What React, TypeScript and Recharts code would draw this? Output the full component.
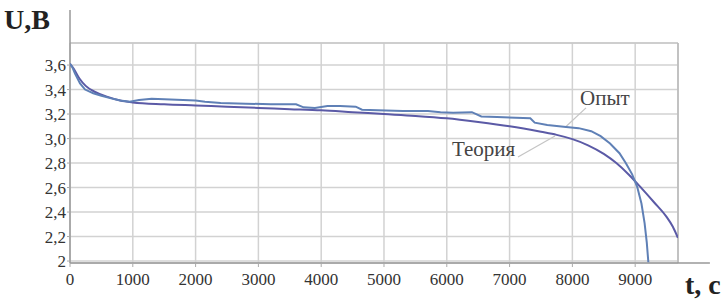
import { LineChart, Line, XAxis, YAxis, CartesianGrid, ReferenceLine } from "recharts";

// Опыт (experiment)
const expT = [0, 40, 80, 160, 240, 370, 500, 640, 800, 950, 1100, 1300, 1500, 1800, 2000, 2150, 2400, 2800, 3200, 3600, 3720, 3900, 4100, 4300, 4550, 4650, 4900, 5300, 5700, 5900, 6100, 6400, 6550, 6800, 7100, 7330, 7400, 7600, 7900, 8100, 8300, 8450, 8600, 8750, 8850, 8950, 9030, 9100, 9150, 9185, 9210];
const expU = [3.61, 3.58, 3.53, 3.45, 3.40, 3.37, 3.35, 3.33, 3.31, 3.30, 3.315, 3.325, 3.32, 3.315, 3.31, 3.30, 3.29, 3.285, 3.28, 3.28, 3.255, 3.25, 3.265, 3.265, 3.26, 3.235, 3.23, 3.225, 3.225, 3.215, 3.21, 3.215, 3.18, 3.175, 3.17, 3.165, 3.13, 3.11, 3.095, 3.085, 3.06, 3.02, 2.96, 2.88, 2.80, 2.71, 2.61, 2.47, 2.31, 2.15, 1.99];

// Теория (theory)
const theoryT = [0, 60, 150, 250, 400, 600, 800, 1000, 1500, 2000, 2500, 3000, 3500, 4000, 4500, 5000, 5500, 6000, 6500, 7000, 7500, 7750, 8000, 8250, 8500, 8700, 8900, 9100, 9300, 9500, 9600, 9680];
const theoryU = [3.61, 3.57, 3.49, 3.43, 3.38, 3.34, 3.31, 3.295, 3.28, 3.27, 3.26, 3.25, 3.24, 3.23, 3.215, 3.20, 3.185, 3.165, 3.135, 3.10, 3.055, 3.03, 2.995, 2.945, 2.875, 2.80, 2.705, 2.595, 2.48, 2.36, 2.28, 2.19];

const xTicks = [0, 1000, 2000, 3000, 4000, 5000, 6000, 7000, 8000, 9000];
const yTicks = [2, 2.2, 2.4, 2.6, 2.8, 3.0, 3.2, 3.4, 3.6];

const X_MAX = 9682;
const Y_MIN = 1.984;
const Y_MAX = 3.78;

const expData = expT.map((t, i) => ({ t, u: expU[i] }));
const theoryData = theoryT.map((t, i) => ({ t, u: theoryU[i] }));

const serif = "'Liberation Serif', 'DejaVu Serif', 'Times New Roman', serif";

const fmtY = (v: number) => (v === 2 ? "2" : v.toFixed(1).replace(".", ","));

export default function App() {
  return (
    <div style={{ position: "relative", width: 726, height: 304, background: "#fff", fontFamily: serif }}>
      <style>{`body{margin:0}`}</style>
      <LineChart width={726} height={304} data={expData} margin={{ top: 43, right: 48, bottom: 11, left: 0 }}>
        <CartesianGrid stroke="#d2d2d2" strokeWidth={1.5} />
        <XAxis
          type="number"
          dataKey="t"
          domain={[0, X_MAX]}
          ticks={xTicks}
          interval={0}
          height={30}
          axisLine={false}
          tickSize={4}
          tickMargin={6}
          tickLine={{ stroke: "#aaa" }}
          tick={{ fontSize: 17, fill: "#333", fontFamily: serif }}
          allowDataOverflow
        />
        <YAxis
          type="number"
          domain={[Y_MIN, Y_MAX]}
          ticks={yTicks}
          interval={0}
          width={70}
          axisLine={false}
          tickSize={3}
          tickMargin={1}
          tickLine={{ stroke: "#aaa" }}
          tickFormatter={fmtY}
          tick={{ fontSize: 17, fill: "#333", fontFamily: serif }}
          allowDataOverflow
        />
        {/* frame of the plot area */}
        <ReferenceLine y={Y_MAX} stroke="#c8c8c8" strokeWidth={1.5} />
        <ReferenceLine x={X_MAX} stroke="#b8b8b8" strokeWidth={1.5} />
        {/* axes drawn past the plot area */}
        <ReferenceLine
          segment={[{ x: 0, y: Y_MIN }, { x: 0, y: 4.05 }]}
          ifOverflow="visible"
          stroke="#999"
          strokeWidth={1.5}
        />
        <ReferenceLine
          segment={[{ x: 0, y: Y_MIN }, { x: 10190, y: Y_MIN }]}
          ifOverflow="visible"
          stroke="#999"
          strokeWidth={1.5}
        />
        {/* label leaders */}
        <ReferenceLine segment={[{ x: 7134, y: 2.85 }, { x: 7723, y: 3.02 }]} stroke="#c4c4c4" strokeWidth={1.2} />
        <ReferenceLine segment={[{ x: 8217, y: 3.25 }, { x: 7882, y: 3.09 }]} stroke="#c4c4c4" strokeWidth={1.2} />
        <Line
          data={theoryData}
          dataKey="u"
          type="monotone"
          stroke="#5b5aa6"
          strokeWidth={2}
          dot={false}
          isAnimationActive={false}
        />
        <Line
          data={expData}
          dataKey="u"
          type="linear"
          stroke="#5f80b6"
          strokeWidth={2}
          dot={false}
          isAnimationActive={false}
        />
      </LineChart>
      <span style={{ position: "absolute", left: 4, top: 6, fontSize: 28, fontWeight: "bold", color: "#222", lineHeight: 1 }}>U,B</span>
      <span style={{ position: "absolute", left: 685, top: 271, fontSize: 28, fontWeight: "bold", color: "#222", lineHeight: 1 }}>t, c</span>
      <span style={{ position: "absolute", left: 580, top: 88, fontSize: 21, color: "#444", lineHeight: 1 }}>Опыт</span>
      <span style={{ position: "absolute", left: 452, top: 139, fontSize: 21, color: "#444", lineHeight: 1 }}>Теория</span>
    </div>
  );
}
